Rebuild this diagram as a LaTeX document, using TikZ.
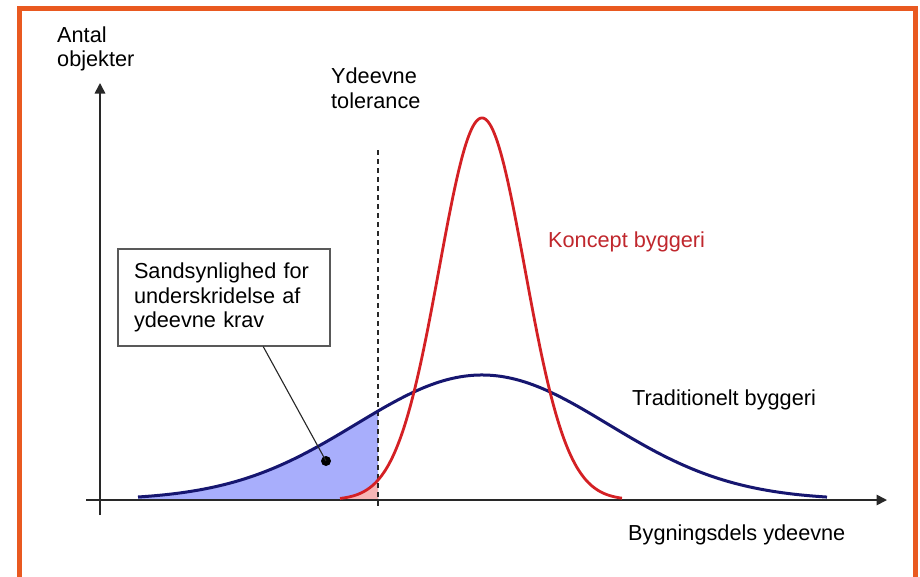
\documentclass[tikz,border=0pt]{standalone}
\usepackage{fontspec}
\setmainfont{Liberation Sans}
\usetikzlibrary{arrows.meta,calc}
\definecolor{frameorange}{RGB}{233,89,32}
\definecolor{navycurve}{RGB}{22,22,112}
\definecolor{redcurve}{RGB}{212,32,36}
\definecolor{redtext}{RGB}{192,39,45}
\definecolor{bluefill}{RGB}{168,174,252}
\definecolor{pinkfill}{RGB}{246,182,182}
\definecolor{inkgray}{RGB}{40,40,40}
\begin{document}
\begin{tikzpicture}[x=1pt,y=-1pt,
  lbl/.style={font=\fontsize{21.7}{24.5}\selectfont, inner sep=0pt, text=black, align=left},
  axisline/.style={draw=inkgray, line width=1.6pt},
  axisarrow/.style={-{Triangle[length=10.5pt,width=10.5pt]}},
  tolline/.style={draw=inkgray, line width=1.5pt, dash pattern=on 5pt off 4pt},
  bluecurve/.style={draw=navycurve, line width=3pt, line join=round},
  redline/.style={draw=redcurve, line width=2.8pt, line join=round},
  notebox/.style={draw=black!65, line width=1.1pt, fill=white, inner xsep=16pt, inner ysep=0pt,
    text width=180pt, minimum height=97pt, align=left, font=\fontsize{21.7}{24.5}\selectfont},
  marker/.style={circle, fill=black, inner sep=0pt, minimum size=10pt},
  leader/.style={draw=black!85, line width=1.1pt}
]
\useasboundingbox (0,0) rectangle (920,576);
\fill[white] (0,0) rectangle (920,576);

% frame
\draw[frameorange, line width=5pt] (19,620) -- (19,8.5) -- (915.5,8.5) -- (915.5,620);

% fills
\fill[bluefill] (138,500)
  -- plot[domain=138:378, samples=80] (\x, {500-125*exp(-0.5*((\x-482)/126)^2)})
  -- (378,500) -- cycle;
\fill[pinkfill] (340,500)
  -- plot[domain=340:378, samples=30] (\x, {500-382*exp(-0.5*((\x-482)/42.8)^2)})
  -- (378,500) -- cycle;

% axes
\coordinate (ybottom) at (100,515);
\coordinate (ytip) at (100,83);
\coordinate (xleft) at (86,500);
\coordinate (xtip) at (887,500);
\draw[axisline, axisarrow] (ybottom) -- (ytip);
\draw[axisline, axisarrow] (xleft) -- (xtip);

% tolerance line
\coordinate (toltop) at (378,150);
\coordinate (tolbottom) at (378,508);
\draw[tolline] (toltop) -- (tolbottom);

% curves
\draw[bluecurve] plot[domain=138:827, samples=200] (\x, {500-125*exp(-0.5*((\x-482)/126)^2)});
\draw[redline] plot[domain=340:622, samples=200] (\x, {500-382*exp(-0.5*((\x-482)/42.8)^2)});

% labels (base = baseline of last line)
\node[lbl, anchor=base west] (antal) at (57,66.5) {Antal\\objekter};
\node[lbl, anchor=base west] (ydeevne) at (331,108) {Ydeevne\\tolerance};
\node[lbl, anchor=base west, text=redtext] (koncept) at (548,247) {Koncept byggeri};
\node[lbl, anchor=base west] (trad) at (632,405) {Traditionelt byggeri};
\node[lbl, anchor=base west] (bygn) at (628,540) {Bygningsdels ydeevne};

% note box
\node[notebox] (note) at (224,297.5) {Sandsynlighed for\\underskridelse af\\ydeevne krav};
\node[marker] (dot) at (326,461) {};
\draw[leader] ($(note.south west)!0.684!(note.south east)$) -- (dot.center);
\end{tikzpicture}
\end{document}
